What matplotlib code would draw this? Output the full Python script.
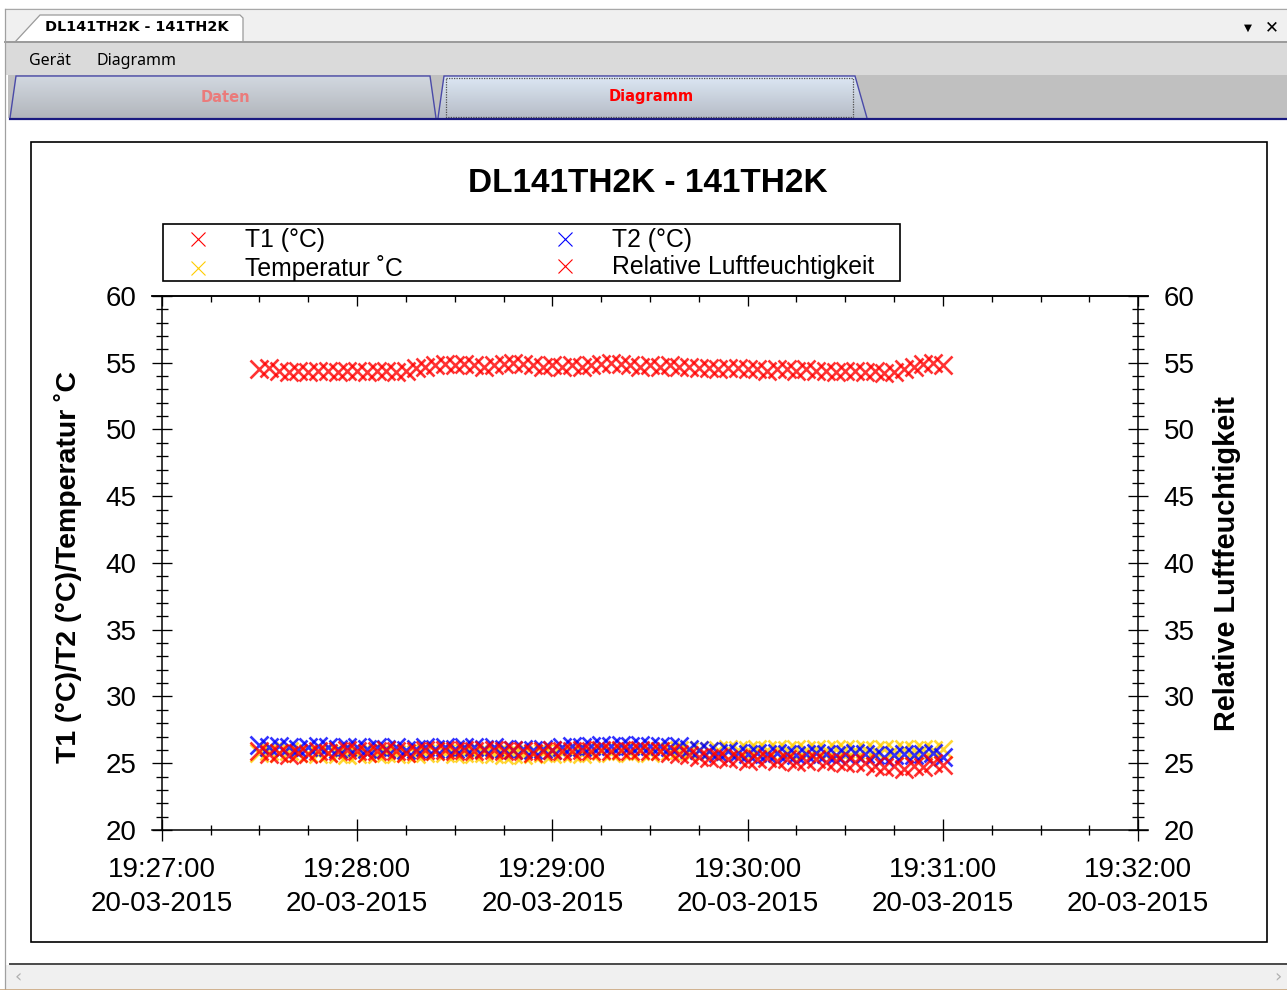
import numpy as np
import pandas as pd
import matplotlib
matplotlib.use('Agg')
import matplotlib.pyplot as plt
import matplotlib.dates as mdates
import matplotlib.colors as mcolors
from matplotlib.patches import Rectangle, Polygon
from matplotlib.lines import Line2D
from matplotlib.ticker import MultipleLocator, NullFormatter

# ----------------------------
# Data (one reading every 3 s)
# ----------------------------
start_time = '2015-03-20 19:27:30'
step = '3s'

t1_vals = [25.9, 25.7, 25.8, 25.6, 25.8, 25.7, 25.9, 25.8, 25.9, 26.0,
           25.9, 25.8, 25.9, 26.0, 25.9, 25.8, 25.9, 26.0, 25.9, 26.0,
           25.9, 26.0, 25.9, 26.0, 26.0, 25.9, 26.0, 25.9, 25.8, 25.9,
           26.0, 25.9, 25.9, 26.0, 25.9, 26.0, 25.9, 26.0, 25.9, 26.0,
           25.9, 25.9, 25.8, 25.7, 25.6, 25.5, 25.4, 25.5, 25.3, 25.4,
           25.2, 25.3, 25.4, 25.2, 25.3, 25.1, 25.2, 25.3, 25.1, 25.2,
           25.0, 25.1, 25.0, 24.8, 24.7, 24.8, 24.6, 24.8, 24.7, 25.0,
           24.9]
t2_vals = [26.4, 26.2, 26.3, 26.2, 26.1, 26.2, 26.3, 26.2, 26.1, 26.2,
           26.2, 26.1, 26.2, 26.1, 26.2, 26.0, 26.1, 26.2, 26.1, 26.2,
           26.1, 26.2, 26.2, 26.1, 26.2, 26.1, 26.0, 26.1, 26.0, 26.1,
           26.0, 26.2, 26.3, 26.2, 26.3, 26.4, 26.3, 26.4, 26.3, 26.4,
           26.3, 26.3, 26.2, 26.3, 26.1, 26.0, 25.9, 25.8, 25.9, 25.8,
           25.7, 25.8, 25.7, 25.8, 25.7, 25.6, 25.7, 25.8, 25.7, 25.6,
           25.7, 25.8, 25.7, 25.6, 25.5, 25.6, 25.7, 25.6, 25.7, 25.8,
           25.5]
temp_vals = [25.8, 25.9, 25.8, 25.9, 25.8, 25.8, 25.7, 25.8, 25.7, 25.6,
             25.7, 25.8, 25.7, 25.8, 25.7, 25.8, 25.7, 25.8, 25.9, 25.8,
             25.7, 25.8, 25.7, 25.8, 25.7, 25.6, 25.7, 25.6, 25.7, 25.8,
             25.7, 25.8, 25.8, 25.7, 25.8, 25.9, 25.8, 25.9, 25.8, 25.9,
             25.8, 25.9, 25.9, 26.0, 25.9, 26.0, 25.9, 26.0, 26.1, 26.0,
             26.0, 26.1, 26.0, 26.1, 26.0, 26.1, 26.0, 26.1, 26.0, 26.1,
             26.1, 26.0, 26.1, 26.0, 26.1, 26.0, 26.1, 26.0, 26.1, 26.0,
             26.1]
rh_vals = [54.5, 54.6, 54.4, 54.3, 54.4, 54.3, 54.4, 54.4, 54.3, 54.4,
           54.4, 54.3, 54.4, 54.4, 54.3, 54.4, 54.6, 54.7, 54.8, 54.9,
           54.8, 54.9, 54.8, 54.7, 54.8, 54.9, 55.0, 54.9, 54.8, 54.7,
           54.8, 54.7, 54.8, 54.7, 54.8, 54.9, 55.0, 54.9, 54.8, 54.7,
           54.8, 54.7, 54.8, 54.7, 54.7, 54.6, 54.6, 54.5, 54.6, 54.6,
           54.5, 54.5, 54.4, 54.5, 54.5, 54.4, 54.5, 54.4, 54.4, 54.3,
           54.4, 54.4, 54.3, 54.4, 54.2, 54.3, 54.5, 54.7, 54.9, 55.0,
           54.8]

series_labels = ['T1 (°C)', 'T2 (°C)', 'Temperatur ˚C', 'Relative Luftfeuchtigkeit']
series_colors = ['#ff0000', '#0000ff', '#ffcc00', '#ff0000']

times = pd.date_range(start_time, periods=len(t1_vals), freq=step)
x_start = pd.Timestamp('2015-03-20 19:27:00')
x_end = pd.Timestamp('2015-03-20 19:32:00')

title = 'DL141TH2K - 141TH2K'
left_label = 'T1 (°C)/T2 (°C)/Temperatur ˚C'
right_label = 'Relative Luftfeuchtigkeit'

# ----------------------------
# Figure + window chrome (pixel coords)
# ----------------------------
W, H = 1287, 990
plt.rcParams['font.family'] = ['Liberation Sans', 'DejaVu Sans']
UI_FONT = ['Noto Sans', 'DejaVu Sans']
UI_BOLD = ['DejaVu Sans']

fig = plt.figure(figsize=(W / 100, H / 100), dpi=100)
bg = fig.add_axes([0, 0, 1, 1])
bg.axis('off')


def fx(px):
    return px / W


def fy(py):
    return 1 - py / H


def rect(x0, y0, x1, y1, fc, ec='none', lw=0):
    bg.add_patch(Rectangle((x0, y0), x1 - x0, y1 - y0, fc=fc, ec=ec, lw=lw))


def grad_poly(pts, top, bottom, ec):
    poly = Polygon(pts, closed=True, fc='none', ec='none')
    bg.add_patch(poly)
    xs = [p[0] for p in pts]
    ys = [p[1] for p in pts]
    g = np.linspace(0, 1, 64)[:, None, None]
    c0 = np.array(mcolors.to_rgb(top))[None, None, :]
    c1 = np.array(mcolors.to_rgb(bottom))[None, None, :]
    img = c0 * (1 - g) + c1 * g
    im = bg.imshow(img, extent=(min(xs), max(xs), max(ys), min(ys)),
                   aspect='auto', interpolation='bilinear', zorder=1)
    im.set_clip_path(poly)
    bg.add_patch(Polygon(pts, closed=False, fc='none', ec=ec, lw=1.0, zorder=2))


# title bar
rect(5, 8, W, 42, '#f0f0f0')
bg.plot([5, W], [8.5, 8.5], color='#a8a8a8', lw=0.8)
rect(5, 42, W, 75, '#dadada')
bg.plot([5, W], [42, 42], color='#9a9a9a', lw=1.4)
bg.add_patch(Polygon([(15, 42), (40, 15), (240, 15), (243, 18), (243, 42)],
                     closed=False, fc='white', ec='#9a9a9a', lw=0.9))
bg.text(137, 27, title, fontsize=10.4, fontweight='bold', ha='center', va='center',
        family=UI_BOLD)
bg.text(1248, 28, '▼', fontsize=7.5, ha='center', va='center', family='DejaVu Sans')
bg.text(1272, 27, '✕', fontsize=12, fontweight='bold', ha='center', va='center',
        family='DejaVu Sans')

# menu
bg.text(29, 61, 'Gerät', fontsize=11.5, ha='left', va='center', family=UI_FONT)
bg.text(97, 61, 'Diagramm', fontsize=11.5, ha='left', va='center', family=UI_FONT)

# tab strip
rect(8, 75, W, 118, '#c0c0c0')
grad_poly([(10, 118), (16, 76), (430, 76), (436, 118)], '#d2d8e0', '#b2b6bc', '#4a4aa8')
grad_poly([(438, 118), (444, 76), (855, 76), (867, 118)], '#dce7f4', '#b6bcc6', '#4a4aa8')
bg.add_patch(Rectangle((446, 78), 407, 39, fill=False, ec='#505050', lw=0.9,
                       ls=(0, (1, 1)), zorder=3))
bg.text(225, 97, 'Daten', fontsize=10.5, fontweight='bold', color='#ea7b7b',
        ha='center', va='center', family=UI_BOLD, zorder=4)
bg.text(651, 97, 'Diagramm', fontsize=10.5, fontweight='bold', color='#ff0000',
        ha='center', va='center', family=UI_BOLD, zorder=4)
bg.plot([10, W], [118.5, 118.5], color='#1a1a80', lw=1.6, zorder=5)

# left border + bottom scrollbar
bg.plot([5, 5], [9, H], color='#a0a0a0', lw=0.9)
bg.plot([10, W], [963.5, 963.5], color='#4a4a4a', lw=1.4)
rect(6, 965, W, 989, '#f0f0f0')
bg.text(18, 977, '‹', fontsize=13, color='#b0b0b0', ha='center', va='center', family='DejaVu Sans')
bg.text(1278, 977, '›', fontsize=13, color='#b0b0b0', ha='center', va='center', family='DejaVu Sans')
bg.plot([0, W], [989.5, 989.5], color='#c8a47c', lw=1.2)

# chart frame and legend frame
bg.add_patch(Rectangle((31, 142), 1236, 800, fill=False, ec='black', lw=1.2))
bg.add_patch(Rectangle((163, 224), 737, 57, fill=False, ec='black', lw=1.2))

bg.set_xlim(0, W)
bg.set_ylim(H, 0)

# ----------------------------
# Chart
# ----------------------------
ax = fig.add_axes([fx(152), fy(830), fx(1148) - fx(152), fy(296) - fy(830)])
ax.patch.set_alpha(0)

series = [t1_vals, t2_vals, temp_vals, rh_vals]
draw_z = [2.4, 2.2, 2.0, 2.5]   # yellow sits underneath the red/blue readings
for vals, col, z in zip(series, series_colors, draw_z):
    ax.plot(times.values, vals, ls='none', marker='x', ms=12.5, mew=1.9,
            color=col, alpha=0.8, zorder=z)

pad = (x_end - x_start) * (10 / 976)
ax.set_xlim(x_start - pad, x_end + pad)
ax.set_ylim(20, 60)

x0n = mdates.date2num(x_start.to_pydatetime())
x1n = mdates.date2num(x_end.to_pydatetime())
ax.spines['left'].set_position(('data', x0n))
ax.spines['right'].set_position(('data', x1n))
for s in ax.spines.values():
    s.set_linewidth(1.1)

ax.xaxis.set_major_locator(mdates.MinuteLocator())
ax.xaxis.set_minor_locator(mdates.SecondLocator(bysecond=[0, 15, 30, 45]))
ax.xaxis.set_major_formatter(mdates.DateFormatter('%H:%M:%S\n%d-%m-%Y'))
ax.yaxis.set_major_locator(MultipleLocator(5))
ax.yaxis.set_minor_locator(MultipleLocator(1))

ax.tick_params(axis='y', which='both', left=True, right=True, labelleft=True,
               labelright=True, direction='inout', width=0.95, labelsize=20, pad=11)
ax.tick_params(axis='y', which='major', length=14.4)
ax.tick_params(axis='y', which='minor', length=8.6)
ax.tick_params(axis='x', which='both', bottom=True, top=False, direction='inout',
               width=0.95, labelsize=20, pad=11.5)
ax.tick_params(axis='x', which='major', length=15.8)
ax.tick_params(axis='x', which='minor', length=7.2)
for lab in ax.get_xticklabels():
    lab.set_linespacing(1.38)

top = ax.secondary_xaxis('top')
top.xaxis.set_major_locator(mdates.MinuteLocator())
top.xaxis.set_minor_locator(mdates.SecondLocator(bysecond=[0, 15, 30, 45]))
top.xaxis.set_major_formatter(NullFormatter())
top.xaxis.set_minor_formatter(NullFormatter())
top.tick_params(axis='x', which='both', direction='in', width=0.95)
top.tick_params(axis='x', which='major', length=7)
top.tick_params(axis='x', which='minor', length=4.3)
top.spines['top'].set_linewidth(1.1)

# legend (column-first order -> rows T1/T2, Temperatur/RH)
handles = [Line2D([], [], ls='none', marker='x', ms=10, mew=0.8, color=c)
           for c in series_colors]
order = [0, 2, 1, 3]
ax.legend([handles[i] for i in order], [series_labels[i] for i in order],
          ncol=2, loc='upper left', bbox_to_anchor=(fx(165), fy(227)),
          bbox_transform=fig.transFigure, frameon=False, fontsize=17.8,
          borderpad=0.05, borderaxespad=0, labelspacing=0.13,
          handlelength=2.6, handletextpad=0.6, columnspacing=5.25)

fig.text(fx(648), fy(184), title, fontsize=24, fontweight='bold', ha='center', va='center')
fig.text(fx(68), fy(567), left_label, fontsize=20.5, fontweight='bold', rotation=90,
         ha='center', va='center')
fig.text(fx(1227), fy(564), right_label, fontsize=20.8, fontweight='bold', rotation=90,
         ha='center', va='center')

fig.savefig('out.png', dpi=100)
